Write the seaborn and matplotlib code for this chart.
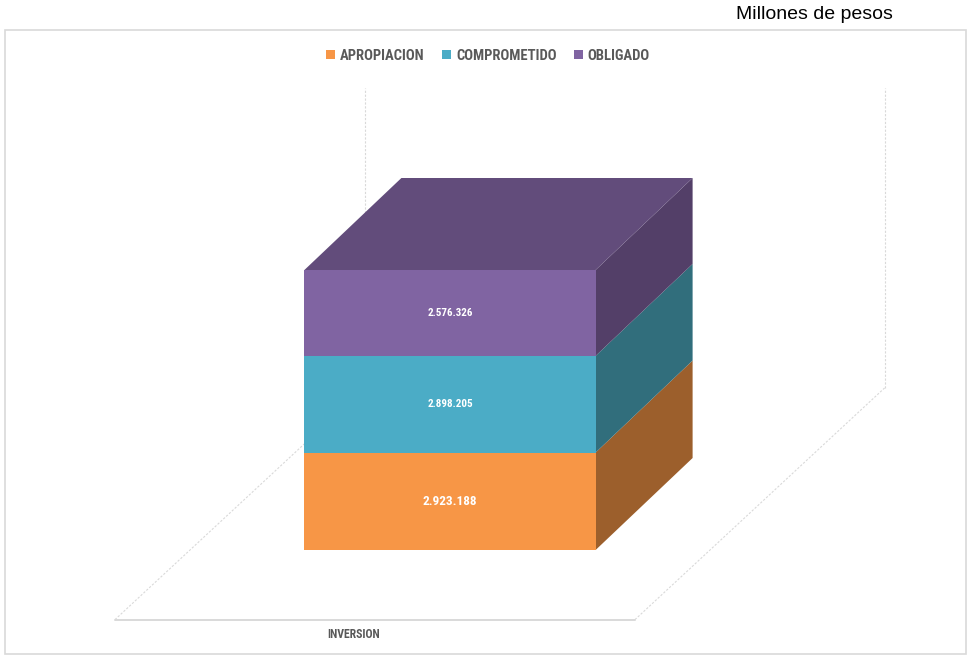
import numpy as np
import matplotlib
matplotlib.use("Agg")
import matplotlib.pyplot as plt
import matplotlib.transforms as mtransforms
import matplotlib.font_manager as fm
from matplotlib.patches import Polygon, Rectangle
from matplotlib.lines import Line2D
import seaborn as sns

# ---------------- data ----------------
categories = ["INVERSION"]
series = ["APROPIACION", "COMPROMETIDO", "OBLIGADO"]
apropiacion = [2923188]
comprometido = [2898205]
obligado = [2576326]
value_labels = ["2.923.188", "2.898.205", "2.576.326"]
unit_note = "Millones de pesos"

# ---------------- style ----------------
front_colors = ["#F79646", "#4BACC6", "#8064A2"]
side_colors = ["#9C5F2C", "#316E7C", "#533F68"]
top_color = "#624C7B"
grid_color = "#D9D9D9"
text_grey = "#595959"

sns.set_theme(style="white")
names = {f.name for f in fm.fontManager.ttflist}
narrow = next((n for n in ["Liberation Sans Narrow", "Roboto Condensed", "Open Sans Condensed"]
               if n in names), "Liberation Sans")
plt.rcParams["font.family"] = [narrow, "DejaVu Sans"]

W, H = 968, 656
fig = plt.figure(figsize=(W / 100, H / 100), dpi=100)
fig.patch.set_facecolor("white")

# front plane of the 3-D box (pixels): x 190..710, value 0 at y=550 from top
ymax = 9000000
px_per_val = 280.0 / sum(apropiacion + comprometido + obligado)
ax_h = ymax * px_per_val
ax = fig.add_axes([190 / W, (H - 550) / H, 520 / W, ax_h / H])
ax.patch.set_visible(False)

bottom = np.zeros(len(categories))
for name, vals, col in zip(series, [apropiacion, comprometido, obligado], front_colors):
    sns.barplot(x=categories, y=vals, color=col, bottom=bottom, width=0.56,
                saturation=1, linewidth=0, ax=ax, label=name, zorder=3)
    bottom = bottom + np.array(vals)

ax.set_xlim(-0.5, 0.5)
ax.set_ylim(0, ymax)
for s in ax.spines.values():
    s.set_visible(False)
ax.set_xticks([])
ax.set_yticks([])
ax.set_xlabel("")
ax.set_ylabel("")
if ax.get_legend() is not None:
    ax.get_legend().remove()

ident = mtransforms.IdentityTransform()

# ---------------- floor & walls ----------------
bb = ax.bbox
L, R, B, T = bb.x0, bb.x1, bb.y0, bb.y1
Dx, Dy = 250.0, 232.0
ff, fb = -0.3, 0.7
fl = (L + ff * Dx, B + ff * Dy)
fr = (R + ff * Dx, B + ff * Dy)
bl = (L + fb * Dx, B + fb * Dy)
br = (R + fb * Dx, B + fb * Dy)
wall_h = T - B
lines = [
    ([fl[0], fr[0]], [fl[1], fr[1]], "-", 1.4),
    ([fl[0], bl[0]], [fl[1], bl[1]], (0, (2, 1.5)), 0.8),
    ([fr[0], br[0]], [fr[1], br[1]], (0, (2, 1.5)), 0.8),
    ([bl[0], bl[0]], [bl[1], bl[1] + wall_h], (0, (2, 1.5)), 0.8),
    ([br[0], br[0]], [br[1], br[1] + wall_h], (0, (2, 1.5)), 0.8),
]
for xs, ys, ls, lw in lines:
    ax.add_line(Line2D(xs, ys, transform=ident, color=grid_color, lw=lw,
                       linestyle=ls, clip_on=False, zorder=1))

# ---------------- 3-D faces of the bar ----------------
bdx, bdy = 97.0, 92.0
bars = [p for p in ax.patches if isinstance(p, Rectangle)]
for i, p in enumerate(bars):
    x0, y0 = p.get_x(), p.get_y()
    x1, y1 = x0 + p.get_width(), y0 + p.get_height()
    (X0, Y0), (X1, Y1) = ax.transData.transform([(x0, y0), (x1, y1)])
    side = [(X1, Y0), (X1, Y1), (X1 + bdx, Y1 + bdy), (X1 + bdx, Y0 + bdy)]
    ax.add_patch(Polygon(side, closed=True, transform=ident, facecolor=side_colors[i],
                         edgecolor="none", clip_on=False, zorder=2))
    if i == len(bars) - 1:
        top = [(X0, Y1), (X1, Y1), (X1 + bdx, Y1 + bdy), (X0 + bdx, Y1 + bdy)]
        ax.add_patch(Polygon(top, closed=True, transform=ident, facecolor=top_color,
                             edgecolor="none", clip_on=False, zorder=2))
    ax.text((x0 + x1) / 2, (y0 + y1) / 2, value_labels[i], ha="center", va="center",
            color="white", fontweight="bold", fontsize=9.5 if i == 0 else 8, zorder=4)

# category label at the front of the floor
ax.text(0, 0, categories[0], ha="center", va="center", color=text_grey,
        fontweight="bold", fontsize=8.5,
        transform=ax.transData + mtransforms.ScaledTranslation(-0.965, -0.85, fig.dpi_scale_trans))

# ---------------- legend ----------------
handles, labels = ax.get_legend_handles_labels()
fig.legend(handles, labels, loc="center", bbox_to_anchor=(488 / W, 1 - 56 / H), ncol=3,
           frameon=False, handlelength=0.6, handleheight=0.6, handletextpad=0.35,
           columnspacing=1.2, labelcolor=text_grey,
           prop={"family": [narrow, "DejaVu Sans"], "weight": "bold", "size": 10.5})

# ---------------- frame and unit note ----------------
fig.add_artist(Rectangle((5 / W, 2 / H), 961 / W, 624 / H, transform=fig.transFigure,
                         fill=False, edgecolor=grid_color, lw=1.2))
fig.text(893 / W, 1 - 19 / H, unit_note, ha="right", va="baseline", fontsize=14,
         color="black", family=["Liberation Sans", "DejaVu Sans"])

fig.savefig("out.png", dpi=100, facecolor="white")
